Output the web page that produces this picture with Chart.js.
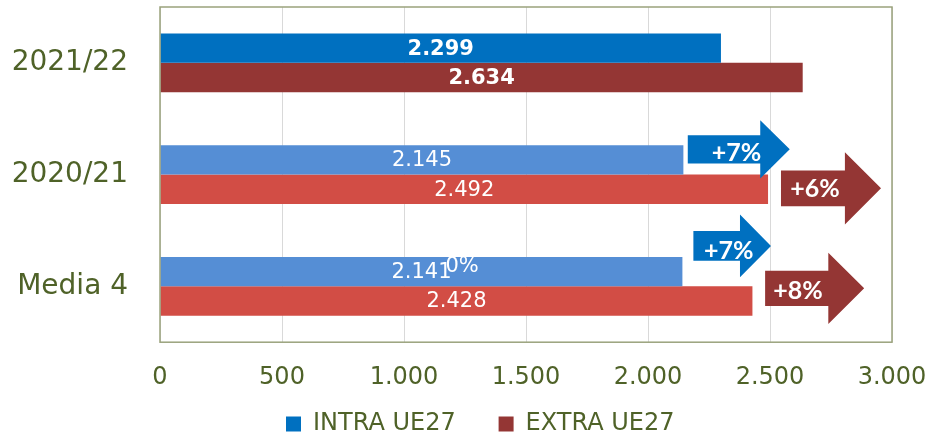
<!DOCTYPE html>
<html>
<head>
<meta charset="utf-8">
<script src="https://cdn.jsdelivr.net/npm/chart.js@4.4.1/dist/chart.umd.min.js"></script>
<style>
  html, body { margin: 0; padding: 0; background: #fff; }
  #wrap { width: 932px; height: 447px; }
</style>
</head>
<body>
<div id="wrap"><canvas id="chart"></canvas></div>
<script>
// data
const categories = ['2021/22', '2020/21', 'Media 4'];
const seriesNames = ['INTRA UE27', 'EXTRA UE27'];
const intraValues = [2299, 2145, 2141];
const extraValues = [2634, 2492, 2428];
const intraChange = [null, '+7%', '+7%'];
const extraChange = [null, '+6%', '+8%'];
const strayNote = '0%';
const xMax = 3000;
const xStep = 500;

// colours
const intraColours = ['#0070C0', '#558ED5', '#558ED5'];
const extraColours = ['#943634', '#D24D45', '#D24D45'];
const legendColours = ['#0070C0', '#943634'];
const textColour = '#4F6228';

// arrow shapes: x in axis units, y in category units around the category centre
const arrowShapes = [
    { series: 0, cat: 1, from: 2163, base: 2460, tip: 2581, dy: -0.226, body: 0.127, head: 0.261, tx: 2363, ty: -0.19 },
    { series: 1, cat: 1, from: 2545, base: 2807, tip: 2955, dy: 0.123, body: 0.160, head: 0.324, tx: 2684, ty: 0.132 },
    { series: 0, cat: 2, from: 2186, base: 2377, tip: 2504, dy: -0.362, body: 0.134, head: 0.280, tx: 2331, ty: -0.313 },
    { series: 1, cat: 2, from: 2480, base: 2739, tip: 2886, dy: 0.018, body: 0.158, head: 0.318, tx: 2615, ty: 0.038 }
];
const notePos = { cat: 2, x: 1238, dy: -0.176 };

function fmt(v) {
    return String(Math.round(v)).replace(/\B(?=(\d{3})+(?!\d))/g, '.');
}

const frame = {
    id: 'frame',
    afterDatasetsDraw(chart) {
        const ctx = chart.ctx;
        const a = chart.chartArea;
        const xs = chart.scales.x, ys = chart.scales.y;
        const catH = ys.getPixelForValue(1) - ys.getPixelForValue(0);
        ctx.save();
        // plot border
        ctx.strokeStyle = '#9AA27C';
        ctx.lineWidth = 1.5;
        ctx.strokeRect(a.left, a.top, a.right - a.left, a.bottom - a.top);

        // value labels
        ctx.fillStyle = '#fff';
        ctx.textAlign = 'center';
        ctx.textBaseline = 'middle';
        chart.data.datasets.forEach((ds, di) => {
            chart.getDatasetMeta(di).data.forEach((bar, i) => {
                ctx.font = (i === 0 ? 'bold ' : '') + '21px "DejaVu Sans"';
                ctx.fillText(fmt(ds.data[i]), (bar.x + bar.base) / 2, bar.y + 1);
            });
        });
        ctx.font = '21px "DejaVu Sans"';
        ctx.fillText(strayNote, xs.getPixelForValue(notePos.x), ys.getPixelForValue(notePos.cat) + notePos.dy * catH);

        // arrows
        arrowShapes.forEach(s => {
            const yc = ys.getPixelForValue(s.cat) + s.dy * catH;
            const x0 = xs.getPixelForValue(s.from);
            const x1 = xs.getPixelForValue(s.base);
            const x2 = xs.getPixelForValue(s.tip);
            const bh = s.body * catH, hh = s.head * catH;
            ctx.fillStyle = legendColours[s.series];
            ctx.beginPath();
            ctx.moveTo(x0, yc - bh);
            ctx.lineTo(x1, yc - bh);
            ctx.lineTo(x1, yc - hh);
            ctx.lineTo(x2, yc);
            ctx.lineTo(x1, yc + hh);
            ctx.lineTo(x1, yc + bh);
            ctx.lineTo(x0, yc + bh);
            ctx.closePath();
            ctx.fill();
            const label = (s.series === 0 ? intraChange : extraChange)[s.cat];
            ctx.fillStyle = '#fff';
            ctx.font = 'bold 25px Lato';
            ctx.fillText(label, xs.getPixelForValue(s.tx), ys.getPixelForValue(s.cat) + s.ty * catH);
        });
        ctx.restore();
    }
};

new Chart(document.getElementById('chart'), {
    type: 'bar',
    data: {
        labels: categories,
        datasets: [{
            label: seriesNames[0],
            data: intraValues,
            backgroundColor: intraColours,
            barPercentage: 1,
            categoryPercentage: 0.525
        }, {
            label: seriesNames[1],
            data: extraValues,
            backgroundColor: extraColours,
            barPercentage: 1,
            categoryPercentage: 0.525
        }]
    },
    options: {
        indexAxis: 'y',
        responsive: true,
        maintainAspectRatio: false,
        animation: false,
        layout: { padding: { top: 7, right: 40, left: 0, bottom: 1 } },
        scales: {
            x: {
                min: 0,
                max: xMax,
                ticks: {
                    stepSize: xStep,
                    padding: 0,
                    color: textColour,
                    font: { family: 'DejaVu Sans', size: 24 },
                    callback: v => fmt(v)
                },
                grid: { color: '#D9D9D9', drawTicks: true, tickLength: 21, tickColor: 'rgba(0,0,0,0)' },
                border: { display: false }
            },
            y: {
                ticks: {
                    padding: 0,
                    color: textColour,
                    font: { family: 'DejaVu Sans', size: 28, lineHeight: 0.5 }
                },
                grid: { display: false, drawTicks: true, tickLength: 32 },
                border: { display: false },
                afterFit: s => { s.width = 160; }
            }
        },
        plugins: {
            legend: {
                position: 'bottom',
                fullSize: false,
                labels: {
                    boxWidth: 15,
                    boxHeight: 15,
                    padding: 20,
                    color: textColour,
                    font: { family: 'DejaVu Sans', size: 24 },
                    generateLabels: chart => seriesNames.map((n, i) => ({
                        text: n + (i === 0 ? '   ' : '            '),
                        fillStyle: legendColours[i],
                        strokeStyle: legendColours[i],
                        lineWidth: 0,
                        fontColor: textColour,
                        datasetIndex: i
                    }))
                }
            },
            tooltip: { enabled: false }
        }
    },
    plugins: [frame]
});
</script>
</body>
</html>
